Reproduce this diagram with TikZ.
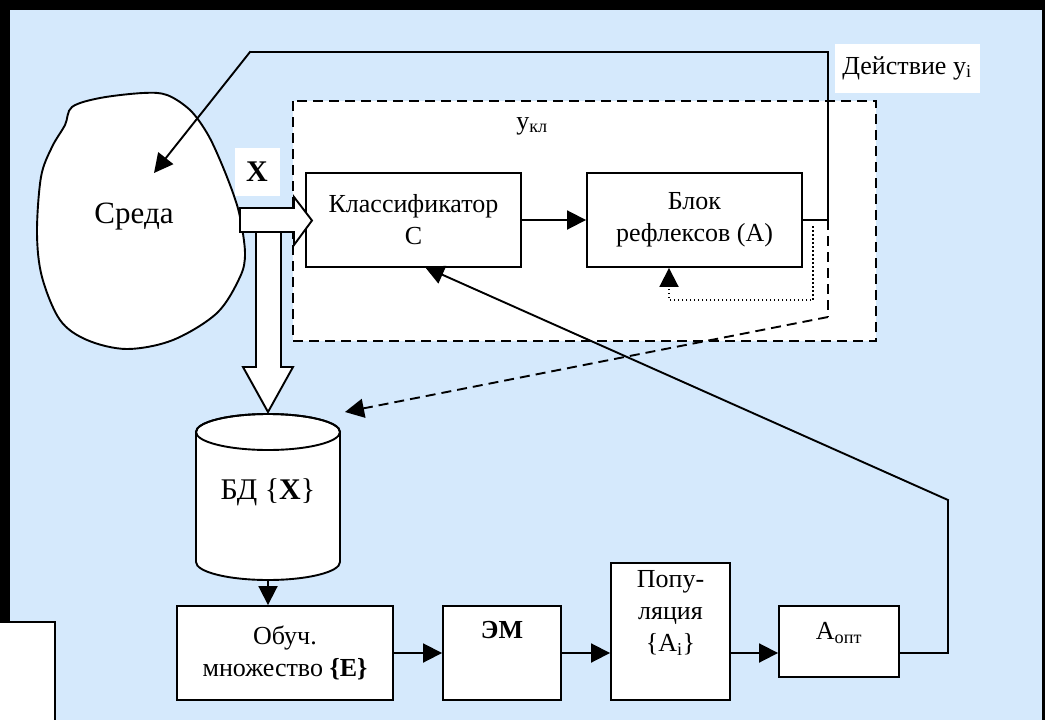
\documentclass[tikz,border=0pt]{standalone}
\usepackage{fontspec}
\setmainfont{Liberation Serif}
\usetikzlibrary{arrows.meta}
\definecolor{bg}{RGB}{213,233,252}
\begin{document}
\begin{tikzpicture}[x=1pt,y=-1pt,
  ln/.style={line width=1.9pt},
  box/.style={draw, fill=white, line width=1.9pt, inner sep=0pt, align=center,
    font=\fontsize{26}{32}\selectfont},
  txt/.style={inner sep=0pt, align=center, font=\fontsize{26}{32}\selectfont},
  arr/.style={line width=1.9pt, -{Triangle[length=19pt,width=19pt]}},
  hollow/.style={draw, fill=white, line width=1.9pt, line join=miter},
  dashbox/.style={draw, fill=white, line width=2.3pt, dash pattern=on 10pt off 6pt},
  dashln/.style={line width=1.9pt, dash pattern=on 10pt off 6pt, -{Triangle[length=19pt,width=19pt]}},
  dotln/.style={line width=1.5pt, dash pattern=on 1.5pt off 2.5pt},
  whitelab/.style={fill=white, inner sep=0pt, align=center}]
\useasboundingbox (0,0) rectangle (1045,720);
% background and frame
\fill[bg] (0,0) rectangle (1045,720);
\fill[black] (0,0) rectangle (1045,10);
\fill[black] (0,0) rectangle (10,622);
\fill[black] (1042,0) rectangle (1045,720);
\draw[fill=white, line width=1.4pt] (-2,622) rectangle (55,722);
% dashed classifier system box
\path[dashbox] (293,101) rectangle (876,341);
% environment blob
\draw[ln, fill=white] plot[smooth cycle, tension=0.55] coordinates {
  (72,107) (100,98) (143,93) (167,95) (190,110) (207,133) (220,160) (233,193)
  (240,217) (245,253) (240,277) (217,313) (173,340) (127,349) (87,340) (60,320)
  (42,277) (37,233) (41,177) (52,147) (65,125)};
\node[inner sep=0pt, font=\fontsize{31}{36}\selectfont] (sreda) at (134,217) {Среда};
% boxes
\node[box, minimum width=215pt, minimum height=94pt] (cls) at (413.5,220) {Классификатор\\С};
\node[box, minimum width=215pt, minimum height=94pt] (blk) at (694.5,220) {Блок\\рефлексов (А)};
\node[box, minimum width=216pt, minimum height=94pt] (obu) at (285,653) {Обуч.\\множество \textbf{\{E\}}};
\node[box, minimum width=118pt, minimum height=94pt] (em) at (502,653) {};
\node[txt, font=\bfseries\fontsize{26}{32}\selectfont] (emt) at (502,630) {ЭМ};
\node[box, minimum width=119pt, minimum height=137pt] (pop) at (670.5,631.5) {};
\node[txt] (popt) at (670.5,613) {Попу-\\ляция\\\{A\textsubscript{i}\}};
\node[box, minimum width=120pt, minimum height=71pt] (aopt) at (839,641.5) {};
\node[txt] (aoptt) at (839,633) {A\textsubscript{опт}};
% database cylinder
\draw[ln, fill=white] (196,432) -- (196,562)
  arc[start angle=180, end angle=360, x radius=72pt, y radius=18pt]
  -- (340,432) arc[start angle=0, end angle=180, x radius=72pt, y radius=18pt] -- cycle;
\draw[ln] (268,432) ellipse[x radius=72pt, y radius=18pt];
\node[inner sep=0pt, font=\fontsize{30}{36}\selectfont] (bd) at (268,492) {БД \{\textbf{X}\}};
\coordinate (bdb) at (268,580);
% hollow arrows X
\path[hollow] (256,230) -- (256,367) -- (243,367) -- (268,412) -- (293,367) -- (281,367) -- (281,230) -- cycle;
\path[hollow] (240,208) -- (294,208) -- (294,197) -- (312,220.5) -- (294,245) -- (294,232) -- (240,232) -- cycle;
\node[whitelab, minimum width=45pt, minimum height=48pt, font=\bfseries\fontsize{30}{30}\selectfont] (xl) at (257,172) {X};
% action output
\coordinate (j1) at (828,220);
\coordinate (j2) at (828,52);
\coordinate (j3) at (250,52);
\coordinate (envtip) at (154,173);
\draw[ln] (blk.east) -- (j1) -- (j2) -- (j3);
\draw[arr, shorten <=-0.9pt] (j3) -- (envtip);
\node[whitelab, minimum width=145pt, minimum height=49pt, font=\fontsize{26}{32}\selectfont] (act) at (907,68) {Действие y\textsubscript{i}};
\node[txt] (ykl) at (532,126) {y\textsubscript{кл}};
% classifier -> reflexes
\draw[arr] (cls.east) -- (blk.west);
% dotted internal feedback
\coordinate (d1) at (813,226);
\coordinate (d2) at (813,300);
\coordinate (d3) at (669,300);
\draw[dotln] (d1) -- (d2) -- (d3) -- ([yshift=-15pt]d3 |- blk.south);
\draw[arr] ([yshift=-17pt]d3 |- blk.south) -- (d3 |- blk.south);
% dashed feedback to DB
\coordinate (f1) at (828,317);
\coordinate (dbtip) at (345,412);
\draw[line width=1.9pt, dash pattern=on 10pt off 6pt] (j1) -- (f1);
\draw[dashln] (f1) -- (dbtip);
% DB -> training set
\draw[arr] (bdb) -- (obu.north -| bdb);
% bottom chain
\draw[arr] (obu.east) -- (em.west);
\draw[arr] (em.east) -- (em.east -| pop.west);
\draw[arr] (pop.east |- em.east) -- (aopt.west |- em.east);
% return to classifier
\coordinate (r1) at (948,653);
\coordinate (r2) at (948,500);
\coordinate (ctip) at (425,267);
\draw[ln] (aopt.east |- em.east) -- (r1) -- (r2);
\draw[arr, shorten <=-0.9pt] (r2) -- (ctip);
\end{tikzpicture}
\end{document}
